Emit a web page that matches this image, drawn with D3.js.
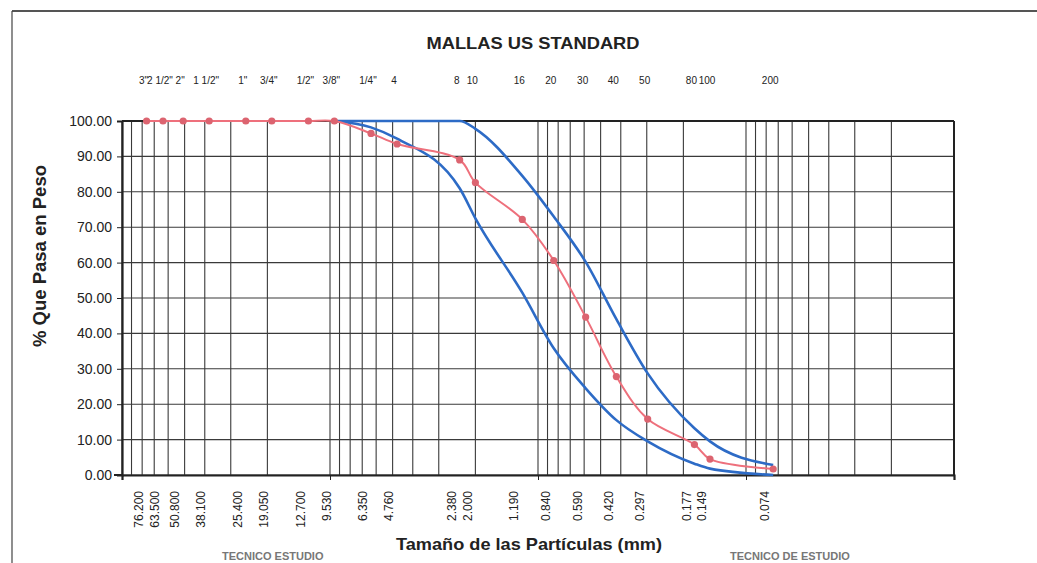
<!DOCTYPE html>
<html>
<head>
<meta charset="utf-8">
<script src="https://cdn.jsdelivr.net/npm/d3@7"></script>
<style>
  html, body { margin: 0; padding: 0; background: #fff; }
  svg { display: block; font-family: "Liberation Sans", Arial, sans-serif; }
</style>
</head>
<body>
<svg id="chart" width="1037" height="563"></svg>
<script>
// ---- data ----
const sieveSizes = [76.2, 63.5, 50.8, 38.1, 25.4, 19.05, 12.7, 9.53, 6.35, 4.76, 2.38, 2.0, 1.19, 0.84, 0.59, 0.42, 0.297, 0.177, 0.149, 0.074];
const sieveNames = ['3"', '2 1/2"', '2"', '1 1/2"', '1"', '3/4"', '1/2"', '3/8"', '1/4"', '4', '8', '10', '16', '20', '30', '40', '50', '80', '100', '200'];
const sizeLabels = ["76.200", "63.500", "50.800", "38.100", "25.400", "19.050", "12.700", "9.530", "6.350", "4.760", "2.380", "2.000", "1.190", "0.840", "0.590", "0.420", "0.297", "0.177", "0.149", "0.074"];
const passing = [100, 100, 100, 100, 100, 100, 100, 100, 96.5, 93.5, 89.0, 82.6, 72.2, 60.6, 44.6, 27.8, 15.8, 8.6, 4.5, 1.7];

const upperSizes = [9.53, 4.76, 2.38, 2.0, 1.19, 0.84, 0.59, 0.42, 0.297, 0.177, 0.149, 0.074];
const upperLimit = [100, 100, 100, 97.8, 84.5, 73.0, 60.2, 44.0, 28.7, 13.2, 9.5, 2.8];
const lowerSizes = [9.53, 6.35, 4.76, 2.38, 2.0, 1.19, 0.84, 0.59, 0.42, 0.297, 0.177, 0.149, 0.074];
const lowerLimit = [100, 98.2, 95.0, 81.0, 72.5, 51.5, 35.8, 24.5, 15.5, 9.5, 3.2, 1.8, 0];

const yTicks = [0, 10, 20, 30, 40, 50, 60, 70, 80, 90, 100];
const decadeTicks = [100, 10, 1, 0.1, 0.01];

// ---- layout ----
const svg = d3.select("#chart");
const L = 122, R = 954, T = 121, B = 475;
const x = d3.scaleLog().domain([100, 0.01]).range([L, R]);
const y = d3.scaleLinear().domain([0, 100]).range([B, T]);

// page frame (scan border)
svg.append("line").attr("x1", 12).attr("x2", 1037).attr("y1", 11).attr("y2", 11)
  .attr("stroke", "#555").attr("stroke-width", 2);
svg.append("line").attr("x1", 12).attr("x2", 12).attr("y1", 11).attr("y2", 563)
  .attr("stroke", "#444").attr("stroke-width", 1.2);

// title
svg.append("text").attr("x", 533).attr("y", 49).attr("text-anchor", "middle")
  .attr("font-size", 16.5).attr("font-weight", "bold").attr("fill", "#222")
  .attr("textLength", 213).attr("lengthAdjust", "spacingAndGlyphs")
  .text("MALLAS US STANDARD");

// sieve names on top
svg.append("g").selectAll("text").data(sieveSizes).join("text")
  .attr("x", d => x(d) - 3).attr("y", 84).attr("text-anchor", "middle")
  .attr("font-size", 10).attr("fill", "#222")
  .text((d, i) => sieveNames[i]);

// grid
const grid = svg.append("g");
grid.selectAll("line.v").data(x.ticks()).join("line").attr("class", "v")
  .attr("x1", d => x(d)).attr("x2", d => x(d)).attr("y1", T).attr("y2", B)
  .attr("stroke", "#3a3a3a").attr("stroke-width", 1.1);
grid.selectAll("line.h").data(yTicks).join("line").attr("class", "h")
  .attr("x1", L).attr("x2", R).attr("y1", d => y(d)).attr("y2", d => y(d))
  .attr("stroke", "#3a3a3a").attr("stroke-width", 1.1);

// frame of plot
svg.append("line").attr("x1", L).attr("x2", R).attr("y1", T).attr("y2", T).attr("stroke", "#222").attr("stroke-width", 2);
svg.append("line").attr("x1", R).attr("x2", R).attr("y1", T).attr("y2", B).attr("stroke", "#222").attr("stroke-width", 2);

// y axis
const yAxis = svg.append("g").attr("transform", `translate(${L},0)`)
  .call(d3.axisLeft(y).tickValues(yTicks).tickFormat(d3.format(".2f")).tickSize(5).tickPadding(5));
yAxis.select(".domain").attr("stroke", "#222").attr("stroke-width", 2.2);
yAxis.selectAll(".tick line").attr("stroke", "#222");
yAxis.selectAll("text").attr("font-size", 14).attr("fill", "#222").attr("font-family", "Liberation Sans, Arial, sans-serif");

// x axis
const xAxis = svg.append("g").attr("transform", `translate(0,${B})`)
  .call(d3.axisBottom(x).tickValues(decadeTicks).tickFormat("").tickSizeOuter(0).tickSize(5));
xAxis.select(".domain").attr("stroke", "#222").attr("stroke-width", 2.2);
xAxis.selectAll(".tick line").attr("stroke", "#222");
svg.append("line").attr("x1", L - 8).attr("x2", L).attr("y1", B).attr("y2", B).attr("stroke", "#222").attr("stroke-width", 2);

// x size labels (rotated)
svg.append("g").selectAll("text").data(sieveSizes).join("text")
  .attr("transform", d => `translate(${x(d) - 8},491) rotate(-90)`)
  .attr("text-anchor", "end").attr("dy", "0.35em")
  .attr("font-size", 12).attr("fill", "#222")
  .text((d, i) => sizeLabels[i]);

// axis titles
svg.append("text").attr("x", 529).attr("y", 550).attr("text-anchor", "middle")
  .attr("font-size", 17).attr("font-weight", "bold").attr("fill", "#222")
  .attr("textLength", 266).attr("lengthAdjust", "spacingAndGlyphs")
  .text("Tamaño de las Partículas (mm)");
svg.append("text").attr("transform", "translate(46,256) rotate(-90)").attr("text-anchor", "middle")
  .attr("font-size", 17.5).attr("font-weight", "bold").attr("fill", "#222")
  .attr("textLength", 182).attr("lengthAdjust", "spacingAndGlyphs")
  .text("% Que Pasa en Peso");

// curves
const smooth = d3.line().x(d => x(d[0])).y(d => y(d[1])).curve(d3.curveMonotoneX);
const redLine = d3.line().x(d => x(d[0])).y(d => y(d[1])).curve(d3.curveCatmullRom.alpha(0.5));
svg.append("path").datum(upperSizes.map((s, i) => [s, upperLimit[i]]))
  .attr("d", smooth).attr("fill", "none").attr("stroke", "#2d6bc6").attr("stroke-width", 2.6);
svg.append("path").datum(lowerSizes.map((s, i) => [s, lowerLimit[i]]))
  .attr("d", smooth).attr("fill", "none").attr("stroke", "#2d6bc6").attr("stroke-width", 2.6);

const pts = sieveSizes.map((s, i) => [s, passing[i]]);
svg.append("path").datum(pts).attr("d", redLine).attr("fill", "none")
  .attr("stroke", "#ee707c").attr("stroke-width", 2);
svg.append("g").selectAll("circle").data(pts).join("circle")
  .attr("cx", d => x(d[0])).attr("cy", d => y(d[1])).attr("r", 3.6)
  .attr("fill", "#dc6470");

// footer text (mostly cut off by the page edge in the scan)
svg.append("text").attr("x", 222).attr("y", 560).attr("font-size", 11).attr("font-weight", "bold")
  .attr("fill", "#777").text("TECNICO ESTUDIO");
svg.append("text").attr("x", 730).attr("y", 560).attr("font-size", 11).attr("font-weight", "bold")
  .attr("fill", "#777").text("TECNICO DE ESTUDIO");
</script>
</body>
</html>
